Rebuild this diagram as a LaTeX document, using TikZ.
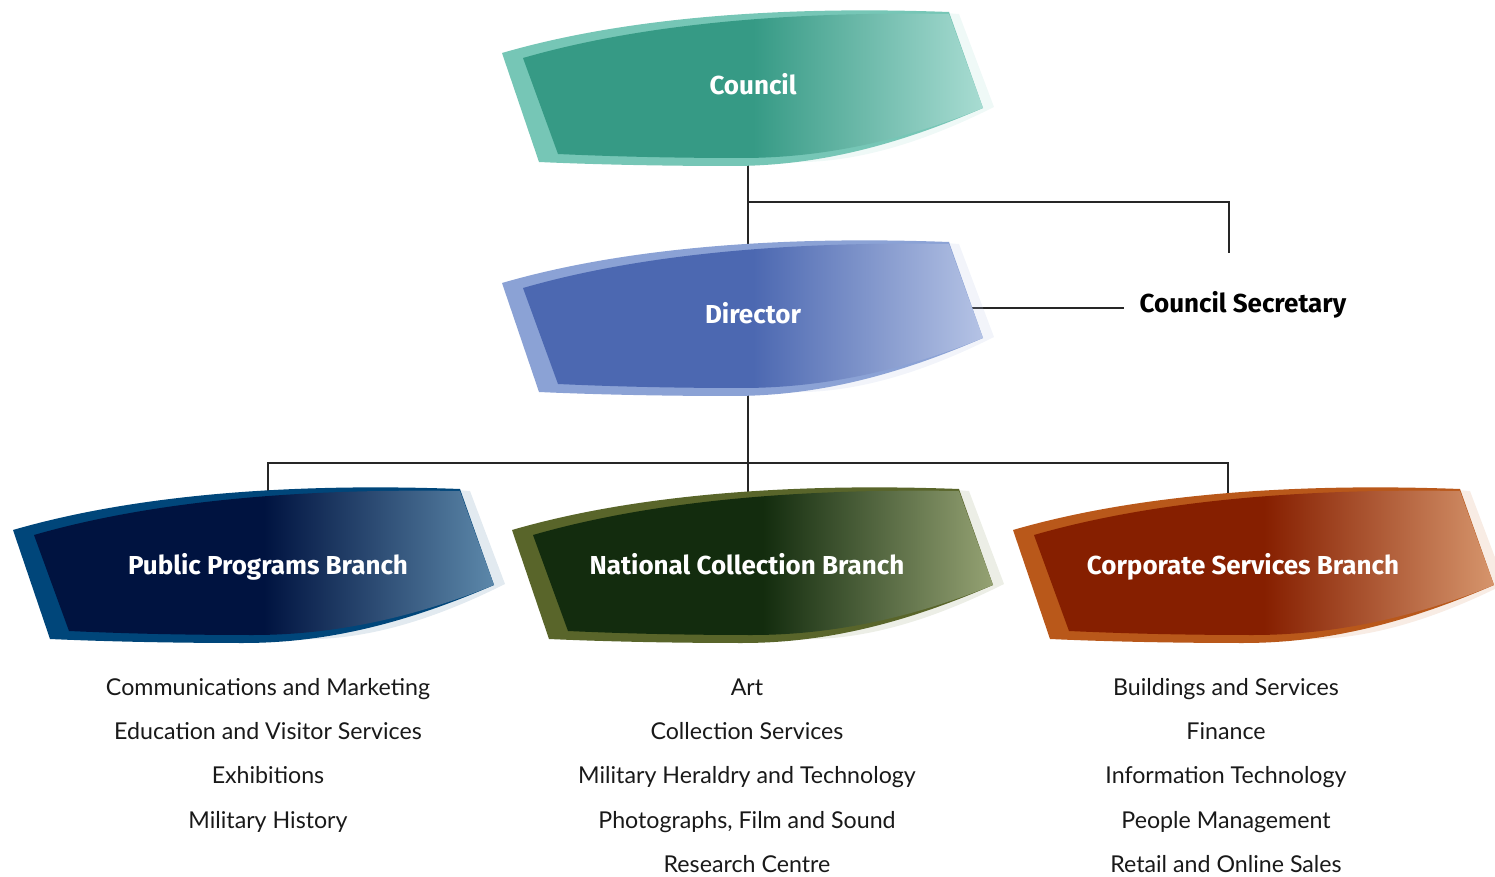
\documentclass[tikz,border=0pt]{standalone}
\usepackage{fontspec}
\setmainfont{Fira Sans}
\newfontfamily\listfont{Lato}
\usetikzlibrary{positioning}
\definecolor{councilrim}{HTML}{76C6B6}
\definecolor{councildk}{HTML}{369A85}
\definecolor{councillt}{HTML}{A8DCD2}
\definecolor{directorrim}{HTML}{8BA2D5}
\definecolor{directordk}{HTML}{4C68B1}
\definecolor{directorlt}{HTML}{B5C3E5}
\definecolor{publicrim}{HTML}{00467A}
\definecolor{publicdk}{HTML}{001340}
\definecolor{publiclt}{HTML}{5C88AA}
\definecolor{nationalrim}{HTML}{59652A}
\definecolor{nationaldk}{HTML}{132C0E}
\definecolor{nationallt}{HTML}{95A273}
\definecolor{corporaterim}{HTML}{B9581A}
\definecolor{corporatedk}{HTML}{861F00}
\definecolor{corporatelt}{HTML}{D6956C}
\pgfdeclarehorizontalshading{councilfill}{100bp}{color(0bp)=(councildk); color(50bp)=(councildk); color(75bp)=(councillt); color(100bp)=(councillt)}
\pgfdeclarehorizontalshading{directorfill}{100bp}{color(0bp)=(directordk); color(50bp)=(directordk); color(75bp)=(directorlt); color(100bp)=(directorlt)}
\pgfdeclarehorizontalshading{publicfill}{100bp}{color(0bp)=(publicdk); color(50bp)=(publicdk); color(75bp)=(publiclt); color(100bp)=(publiclt)}
\pgfdeclarehorizontalshading{nationalfill}{100bp}{color(0bp)=(nationaldk); color(50bp)=(nationaldk); color(75bp)=(nationallt); color(100bp)=(nationallt)}
\pgfdeclarehorizontalshading{corporatefill}{100bp}{color(0bp)=(corporatedk); color(50bp)=(corporatedk); color(75bp)=(corporatelt); color(100bp)=(corporatelt)}
\tikzset{
  ln/.style={draw=black!85, line width=0.65pt},
  ttl/.style={anchor=base, text=white, font=\bfseries\fontsize{13}{15}\selectfont},
  sec/.style={anchor=base, text=black, font=\bfseries\fontsize{13}{15}\selectfont},
  lst/.style={anchor=base, text=black!90, font=\listfont\fontsize{11.6}{14}\selectfont}
}
\newcommand\banner[2]{%
  \begin{scope}[shift={#1}]
    \fill[#2lt, opacity=0.18] (430,-41) -- (457,-39) -- (492,54)
      .. controls (420,90) and (350,112) .. (280,109) -- (280,90) -- cycle;
    \fill[#2rim] (0,0) .. controls (110,-32) and (260,-48) .. (447,-41) -- (481,55)
      .. controls (400,90) and (320,113) .. (230,113) .. controls (150,113) and (80,111) .. (37,109) -- cycle;
    \shade[shading=#2fill] (21,5) .. controls (125,-25) and (265,-42) .. (447,-39) -- (481,55)
      .. controls (400,88) and (320,105) .. (240,105) .. controls (160,105) and (100,103) .. (56,101) -- cycle;
  \end{scope}}

\begin{document}
\begin{tikzpicture}[x=0.5pt, y=-0.5pt]
  \useasboundingbox (0,0) rectangle (1495,877);

  \coordinate (council-s) at (748,157);
  \coordinate (fork-sec) at (748,202);
  \coordinate (sec-n) at (1229,253);
  \coordinate (director-n) at (748,250);
  \coordinate (director-e) at (972,308);
  \coordinate (sec-w) at (1124,308);
  \coordinate (director-s) at (748,388);
  \coordinate (fork-br) at (748,463);
  \coordinate (public-n) at (268,495);
  \coordinate (national-n) at (748,495);
  \coordinate (corporate-n) at (1228,497);

  \draw[ln] (council-s) -- (director-n);
  \draw[ln] (fork-sec) -| (sec-n);
  \draw[ln] (director-e) -- (sec-w);
  \draw[ln] (director-s) -- (national-n);
  \draw[ln] (fork-br) -| (public-n);
  \draw[ln] (fork-br) -| (corporate-n);

  \banner{(502,53)}{council}
  \banner{(502,283)}{director}
  \banner{(13,530)}{public}
  \banner{(512,530)}{national}
  \banner{(1013,530)}{corporate}

  \node[ttl] (council) at (753,95) {Council};
  \node[ttl] (director) at (753,324) {Director};
  \node[ttl] (public) at (268,574) {Public Programs Branch};
  \node[ttl] (national) at (747,574) {National Collection Branch};
  \node[ttl] (corporate) at (1243,574) {Corporate Services Branch};
  \node[sec] (secretary) at (1243,313) {Council Secretary};

  \foreach \t [count=\i] in {Communications and Marketing, Education and Visitor Services, Exhibitions, Military History}
    \node[lst] (pp\i) at (268,651+44.3*\i) {\t};
  \foreach \t [count=\i] in {Art, Collection Services, Military Heraldry and Technology, {Photographs, Film and Sound}, Research Centre}
    \node[lst] (nc\i) at (747,651+44.3*\i) {\t};
  \foreach \t [count=\i] in {Buildings and Services, Finance, Information Technology, People Management, Retail and Online Sales}
    \node[lst] (cs\i) at (1226,651+44.3*\i) {\t};
\end{tikzpicture}
\end{document}
